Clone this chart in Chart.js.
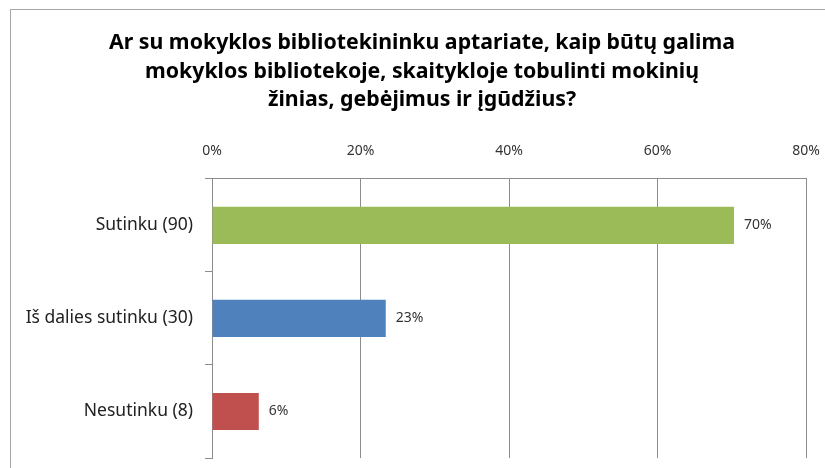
<!DOCTYPE html>
<html>
<head>
<meta charset="utf-8">
<script src="https://cdn.jsdelivr.net/npm/chart.js@4/dist/chart.umd.min.js"></script>
<style>
  html, body { margin: 0; padding: 0; background: #fff; overflow: hidden; }
  #frame {
    position: absolute; left: 10px; top: 9px;
    width: 822px; height: 459px;
    border-top: 1px solid #a6a6a6; border-left: 1px solid #a6a6a6;
    background: #fff;
  }
</style>
</head>
<body>
<div id="frame"><canvas id="chart" width="822" height="459"></canvas></div>
<script>
// Chart data
const titleLines = [
    'Ar su mokyklos bibliotekininku aptariate, kaip būtų galima',
    'mokyklos bibliotekoje, skaitykloje tobulinti mokinių',
    'žinias, gebėjimus ir įgūdžius?'
];
const categories = ['Sutinku (90)', 'Iš dalies sutinku (30)', 'Nesutinku (8)'];
const shares = [70.3, 23.4, 6.3];
const shareLabels = ['70%', '23%', '6%'];
const barColors = ['#9BBB59', '#4F81BD', '#C0504D'];
const tickValues = [0, 20, 40, 60, 80];

const FONT = "'Noto Sans', sans-serif";

// Value labels at the end of each bar
const valueLabels = {
    id: 'valueLabels',
    afterDatasetsDraw(chart) {
        const ctx = chart.ctx;
        const meta = chart.getDatasetMeta(0);
        ctx.save();
        ctx.font = '14px ' + FONT;
        ctx.fillStyle = '#333';
        ctx.textBaseline = 'middle';
        ctx.textAlign = 'left';
        meta.data.forEach((bar, i) => {
            ctx.fillText(shareLabels[i], bar.x + 10, bar.y);
        });
        ctx.restore();
    }
};

const ctx = document.getElementById('chart').getContext('2d');
new Chart(ctx, {
    type: 'bar',
    data: {
        labels: categories,
        datasets: [{
            data: shares,
            backgroundColor: barColors,
            borderWidth: 0,
            categoryPercentage: 1,
            barPercentage: 0.4
        }]
    },
    options: {
        indexAxis: 'y',
        responsive: false,
        animation: false,
        layout: { padding: { left: 0, right: 0, top: 0, bottom: 11 } },
        scales: {
            x: {
                position: 'top',
                min: 0,
                max: 80,
                afterBuildTicks: axis => { axis.ticks = tickValues.map(v => ({ value: v })); },
                afterFit: axis => {
                    axis.height = 52;
                    axis.paddingLeft = 0;
                    axis.paddingRight = 27;
                },
                border: { display: true, color: '#8c8c8c' },
                grid: { color: '#8c8c8c', drawTicks: false },
                ticks: {
                    padding: 19,
                    color: '#333',
                    font: { family: FONT, size: 14 },
                    callback: v => v + '%'
                }
            },
            y: {
                afterFit: axis => {
                    axis.width = 201;
                    axis.paddingTop = 0;
                    axis.paddingBottom = 0;
                },
                border: { display: true, color: '#8c8c8c' },
                grid: { offset: true, drawOnChartArea: false, tickLength: 7, color: '#8c8c8c' },
                ticks: {
                    padding: 12,
                    color: '#222',
                    font: { family: FONT, size: 17.5 }
                }
            }
        },
        plugins: {
            legend: { display: false },
            tooltip: { enabled: false },
            title: {
                display: true,
                text: titleLines,
                color: '#000',
                font: { family: FONT, size: 21.3, weight: 'bold', lineHeight: 1.36 },
                padding: { top: 18, bottom: 12 }
            }
        }
    },
    plugins: [valueLabels]
});
</script>
</body>
</html>
